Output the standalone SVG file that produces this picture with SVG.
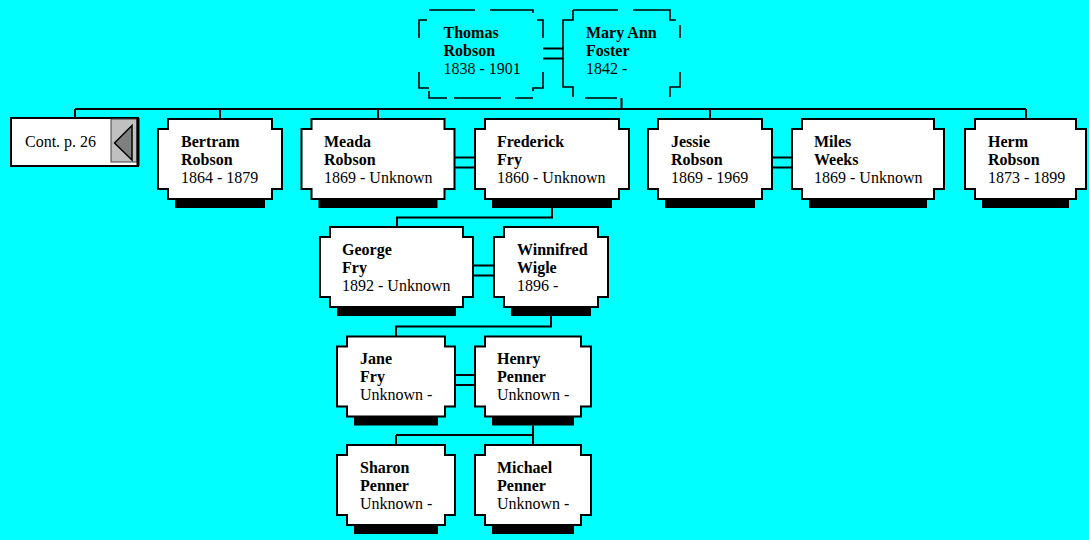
<svg xmlns="http://www.w3.org/2000/svg" width="1089" height="540" viewBox="0 0 1089 540">
<style>
.box{fill:#fff;stroke:#000;stroke-width:2}
.shadow{fill:#000}
.dash{fill:none;stroke:#000;stroke-width:1.6}
.conn{fill:none;stroke:#000;stroke-width:2}
text{font-family:"Liberation Serif","Times New Roman",serif;font-size:16px;fill:#000}
.n{font-weight:bold}
</style>
<rect x="0" y="0" width="1089" height="540" fill="#00ffff"/>
<g id="connectors">
<path class="conn" d="M543,48.5 H563 M543,58.5 H563 M621.5,98 V109 M75,109 H1026 M75,109 V118 M220,109 V119 M378,109 V119 M710,109 V119 M1026,109 V119"/>
<path class="conn" d="M454.5,157.5 H475 M454.5,167.5 H475 M772,157.5 H792 M772,167.5 H792"/>
<path class="conn" d="M552,208 V217.5 H397 V227 M473,265.5 H494 M473,275.5 H494"/>
<path class="conn" d="M551,316 V326.5 H396 V336.5 M455,375 H475 M455,385 H475"/>
<path class="conn" d="M533,425.5 V445 M396,435 H533 M396,435 V445"/>
</g>
<g id="thomas">
<path class="dash" d="M429,10 H475 M490,10 H533 V13 M537,20 H543 V38 M543,72 V88 H533 V91 M533,98 H515 M501,98 H454 M447,98 H429 V91 M429,88 H419 V72 M419,38 V20 H427"/>
<text x="443.5" y="37.5" class="n">Thomas</text>
<text x="443.5" y="55.5" class="n">Robson</text>
<text x="443.5" y="73.5">1838 - 1901</text>
</g>
<g id="mary">
<path class="dash" d="M573,10 H618 M633,10 H670 V20 H676 M680,25 V38 M680,72 V87 H670 V97 M617,98 H585 M573,97 V87 H563 V20 H573 V10"/>
<text x="586" y="37.5" class="n">Mary Ann</text>
<text x="586" y="55.5" class="n">Foster</text>
<text x="586" y="73.5">1842 -</text>
</g>
<g id="cont">
<rect x="11" y="118" width="127" height="48" fill="#fff" stroke="#000" stroke-width="2"/>
<rect x="111" y="119" width="26" height="43" fill="#c0c0c0" stroke="#404040" stroke-width="1"/>
<line x1="138" y1="118" x2="138" y2="166" stroke="#000" stroke-width="3"/>
<polygon points="114.5,143 132,125.5 132,160" fill="#808080" stroke="#000" stroke-width="1.5"/>
<text x="25" y="146.5">Cont. p. 26</text>
</g>
<g id="bertram">
<rect class="shadow" x="175" y="199" width="90" height="9"/>
<path class="box" d="M168,119 H272 V129 H282 V189 H272 V199 H168 V189 H158 V129 H168 Z"/>
<text x="181" y="146.5" class="n">Bertram</text>
<text x="181" y="164.5" class="n">Robson</text>
<text x="181" y="182.5">1864 - 1879</text>
</g>
<g id="meada">
<rect class="shadow" x="318.5" y="199" width="119" height="9"/>
<path class="box" d="M311.5,119 H444.5 V129 H454.5 V189 H444.5 V199 H311.5 V189 H301.5 V129 H311.5 Z"/>
<text x="324" y="146.5" class="n">Meada</text>
<text x="324" y="164.5" class="n">Robson</text>
<text x="324" y="182.5">1869 - Unknown</text>
</g>
<g id="frederick">
<rect class="shadow" x="492" y="199" width="120" height="9"/>
<path class="box" d="M485,119 H619 V129 H629 V189 H619 V199 H485 V189 H475 V129 H485 Z"/>
<text x="497" y="146.5" class="n">Frederick</text>
<text x="497" y="164.5" class="n">Fry</text>
<text x="497" y="182.5">1860 - Unknown</text>
</g>
<g id="jessie">
<rect class="shadow" x="665" y="199" width="90" height="9"/>
<path class="box" d="M658,119 H762 V129 H772 V189 H762 V199 H658 V189 H648 V129 H658 Z"/>
<text x="671" y="146.5" class="n">Jessie</text>
<text x="671" y="164.5" class="n">Robson</text>
<text x="671" y="182.5">1869 - 1969</text>
</g>
<g id="miles">
<rect class="shadow" x="809" y="199" width="118" height="9"/>
<path class="box" d="M802,119 H934 V129 H944 V189 H934 V199 H802 V189 H792 V129 H802 Z"/>
<text x="814" y="146.5" class="n">Miles</text>
<text x="814" y="164.5" class="n">Weeks</text>
<text x="814" y="182.5">1869 - Unknown</text>
</g>
<g id="herm">
<rect class="shadow" x="982" y="199" width="87" height="9"/>
<path class="box" d="M975,119 H1076 V129 H1086 V189 H1076 V199 H975 V189 H965 V129 H975 Z"/>
<text x="988" y="146.5" class="n">Herm</text>
<text x="988" y="164.5" class="n">Robson</text>
<text x="988" y="182.5">1873 - 1899</text>
</g>
<g id="george">
<rect class="shadow" x="337" y="307" width="119" height="9"/>
<path class="box" d="M330,227 H463 V237 H473 V297 H463 V307 H330 V297 H320 V237 H330 Z"/>
<text x="342" y="254.5" class="n">George</text>
<text x="342" y="272.5" class="n">Fry</text>
<text x="342" y="290.5">1892 - Unknown</text>
</g>
<g id="winnifred">
<rect class="shadow" x="511" y="307" width="80" height="9"/>
<path class="box" d="M504,227 H598 V237 H608 V297 H598 V307 H504 V297 H494 V237 H504 Z"/>
<text x="517" y="254.5" class="n">Winnifred</text>
<text x="517" y="272.5" class="n">Wigle</text>
<text x="517" y="290.5">1896 -</text>
</g>
<g id="jane">
<rect class="shadow" x="354" y="416.5" width="84" height="9"/>
<path class="box" d="M347,336.5 H445 V346.5 H455 V406.5 H445 V416.5 H347 V406.5 H337 V346.5 H347 Z"/>
<text x="360" y="364" class="n">Jane</text>
<text x="360" y="382" class="n">Fry</text>
<text x="360" y="400">Unknown -</text>
</g>
<g id="henry">
<rect class="shadow" x="492" y="416.5" width="82" height="9"/>
<path class="box" d="M485,336.5 H581 V346.5 H591 V406.5 H581 V416.5 H485 V406.5 H475 V346.5 H485 Z"/>
<text x="497" y="364" class="n">Henry</text>
<text x="497" y="382" class="n">Penner</text>
<text x="497" y="400">Unknown -</text>
</g>
<g id="sharon">
<rect class="shadow" x="354" y="525" width="84" height="9"/>
<path class="box" d="M347,445 H445 V455 H455 V515 H445 V525 H347 V515 H337 V455 H347 Z"/>
<text x="360" y="472.5" class="n">Sharon</text>
<text x="360" y="490.5" class="n">Penner</text>
<text x="360" y="508.5">Unknown -</text>
</g>
<g id="michael">
<rect class="shadow" x="492" y="525" width="82" height="9"/>
<path class="box" d="M485,445 H581 V455 H591 V515 H581 V525 H485 V515 H475 V455 H485 Z"/>
<text x="497" y="472.5" class="n">Michael</text>
<text x="497" y="490.5" class="n">Penner</text>
<text x="497" y="508.5">Unknown -</text>
</g>
</svg>
